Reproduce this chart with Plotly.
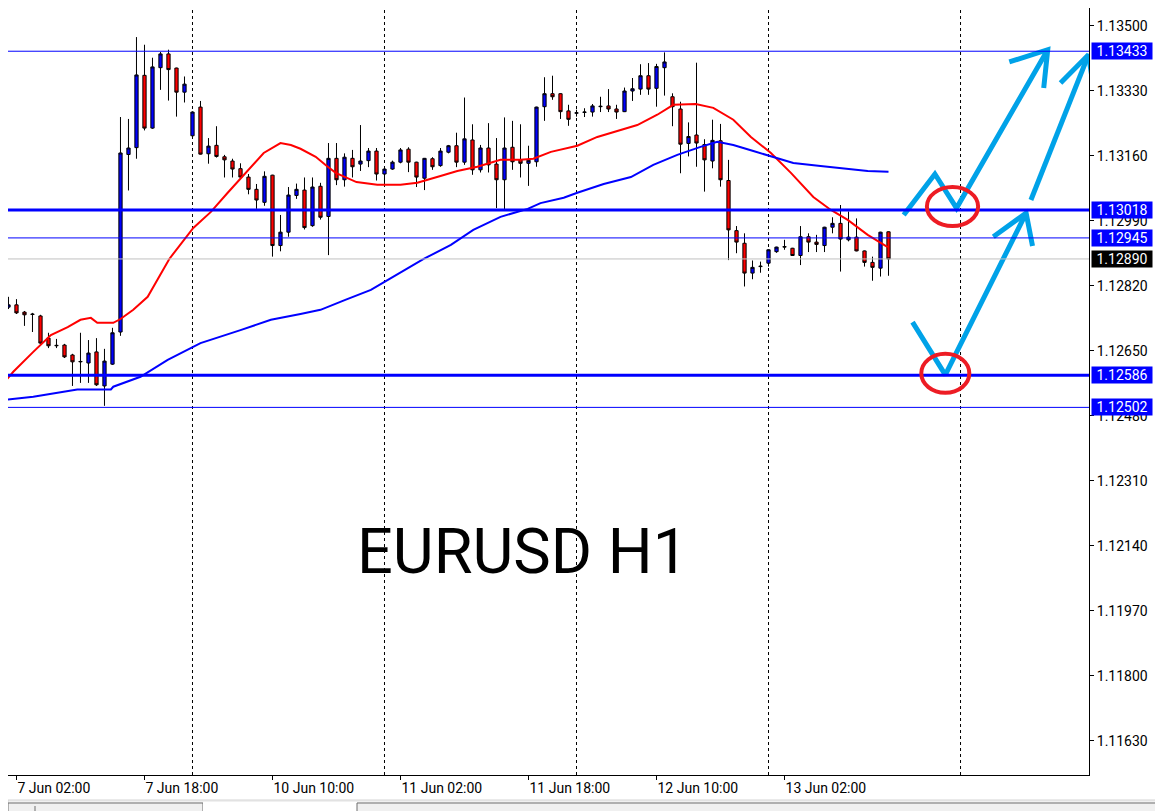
import plotly.graph_objects as go

# ---- EURUSD H1 bars, oldest first (bar 0 = 7 Jun 00:00) ----
opens = [
    1.12767, 1.12764, 1.12770, 1.12751, 1.12746, 1.12741, 1.12683, 1.12663, 1.12665, 1.12639,
    1.12621, 1.12618, 1.12647, 1.12558, 1.12615, 1.12699, 1.13163, 1.13181, 1.13370, 1.13232,
    1.13390, 1.13426, 1.13389, 1.13326, 1.13212, 1.13287, 1.13165, 1.13187, 1.13157, 1.13146,
    1.13126, 1.13104, 1.13072, 1.13038, 1.13109, 1.12925, 1.12960, 1.13056, 1.13070, 1.12977,
    1.13080, 1.13001, 1.13153, 1.13097, 1.13153, 1.13138, 1.13147, 1.13172, 1.13112, 1.13125,
    1.13143, 1.13177, 1.13143, 1.13101, 1.13152, 1.13134, 1.13169, 1.13186, 1.13143, 1.13201,
    1.13123, 1.13180, 1.13138, 1.13097, 1.13182, 1.13149, 1.13140, 1.13144, 1.13288, 1.13322,
    1.13322, 1.13277, 1.13271, 1.13273, 1.13274, 1.13288, 1.13290, 1.13282, 1.13275, 1.13329,
    1.13334, 1.13369, 1.13336, 1.13390, 1.13314, 1.13282, 1.13192, 1.13214, 1.13189, 1.13146,
    1.13199, 1.13095, 1.12964, 1.12931, 1.12853, 1.12870, 1.12879, 1.12909, 1.12921, 1.12918,
    1.12899, 1.12948, 1.12934, 1.12925, 1.12973, 1.12983, 1.12940, 1.12947, 1.12911, 1.12881,
    1.12866, 1.12961,
]
highs = [
    1.12772, 1.12791, 1.12785, 1.12754, 1.12749, 1.12744, 1.12697, 1.12681, 1.12668, 1.12642,
    1.12697, 1.12678, 1.12683, 1.12655, 1.12710, 1.13261, 1.13256, 1.13470, 1.13450, 1.13416,
    1.13431, 1.13437, 1.13390, 1.13367, 1.13276, 1.13303, 1.13206, 1.13237, 1.13162, 1.13152,
    1.13140, 1.13112, 1.13086, 1.13119, 1.13110, 1.13005, 1.13078, 1.13087, 1.13103, 1.13103,
    1.13089, 1.13193, 1.13193, 1.13166, 1.13175, 1.13240, 1.13180, 1.13180, 1.13126, 1.13147,
    1.13180, 1.13182, 1.13144, 1.13154, 1.13156, 1.13180, 1.13188, 1.13220, 1.13312, 1.13242,
    1.13188, 1.13245, 1.13206, 1.13260, 1.13251, 1.13242, 1.13186, 1.13288, 1.13365, 1.13369,
    1.13323, 1.13293, 1.13280, 1.13284, 1.13295, 1.13314, 1.13334, 1.13293, 1.13338, 1.13363,
    1.13399, 1.13402, 1.13400, 1.13430, 1.13323, 1.13301, 1.13247, 1.13403, 1.13203, 1.13254,
    1.13243, 1.13149, 1.12976, 1.12957, 1.12886, 1.12883, 1.12915, 1.12922, 1.12940, 1.12919,
    1.12976, 1.12957, 1.12953, 1.12974, 1.12999, 1.13031, 1.13014, 1.12996, 1.12912, 1.12896,
    1.12961, 1.12962,
]
lows = [
    1.12762, 1.12759, 1.12746, 1.12715, 1.12699, 1.12668, 1.12657, 1.12657, 1.12631, 1.12558,
    1.12566, 1.12566, 1.12558, 1.12506, 1.12613, 1.12689, 1.13069, 1.13152, 1.13226, 1.13230,
    1.13332, 1.13304, 1.13262, 1.13299, 1.13211, 1.13163, 1.13139, 1.13155, 1.13103, 1.13103,
    1.13102, 1.13059, 1.13021, 1.13029, 1.12896, 1.12910, 1.12948, 1.13047, 1.12967, 1.12974,
    1.12993, 1.12900, 1.13083, 1.13079, 1.13103, 1.13120, 1.13130, 1.13095, 1.13086, 1.13123,
    1.13140, 1.13117, 1.13078, 1.13070, 1.13123, 1.13131, 1.13166, 1.13130, 1.13136, 1.13110,
    1.13116, 1.13116, 1.13023, 1.13020, 1.13123, 1.13103, 1.13081, 1.13131, 1.13251, 1.13306,
    1.13256, 1.13238, 1.13262, 1.13261, 1.13262, 1.13274, 1.13274, 1.13256, 1.13274, 1.13303,
    1.13319, 1.13319, 1.13288, 1.13317, 1.13237, 1.13114, 1.13158, 1.13131, 1.13066, 1.13127,
    1.13079, 1.12887, 1.12905, 1.12818, 1.12837, 1.12854, 1.12870, 1.12906, 1.12914, 1.12898,
    1.12874, 1.12908, 1.12908, 1.12908, 1.12957, 1.12857, 1.12936, 1.12910, 1.12870, 1.12833,
    1.12844, 1.12846,
]
closes = [
    1.12766, 1.12770, 1.12749, 1.12744, 1.12745, 1.12670, 1.12663, 1.12664, 1.12634, 1.12621,
    1.12622, 1.12644, 1.12561, 1.12623, 1.12697, 1.13167, 1.13180, 1.13371, 1.13232, 1.13392,
    1.13426, 1.13385, 1.13326, 1.13347, 1.13274, 1.13164, 1.13185, 1.13158, 1.13149, 1.13125,
    1.13104, 1.13072, 1.13044, 1.13106, 1.12925, 1.12960, 1.13057, 1.13072, 1.12972, 1.13078,
    1.12999, 1.13153, 1.13097, 1.13156, 1.13131, 1.13146, 1.13172, 1.13112, 1.13125, 1.13143,
    1.13175, 1.13143, 1.13104, 1.13153, 1.13131, 1.13172, 1.13186, 1.13143, 1.13204, 1.13123,
    1.13180, 1.13136, 1.13097, 1.13180, 1.13144, 1.13140, 1.13148, 1.13287, 1.13322, 1.13314,
    1.13275, 1.13255, 1.13272, 1.13274, 1.13290, 1.13289, 1.13282, 1.13274, 1.13329, 1.13335,
    1.13369, 1.13334, 1.13393, 1.13405, 1.13288, 1.13190, 1.13210, 1.13193, 1.13149, 1.13200,
    1.13097, 1.12966, 1.12934, 1.12853, 1.12868, 1.12871, 1.12914, 1.12921, 1.12922, 1.12899,
    1.12948, 1.12934, 1.12928, 1.12973, 1.12983, 1.12942, 1.12947, 1.12911, 1.12881, 1.12868,
    1.12960, 1.12890,
]

# time axis labels (bar index -> text) and day separators (00:00 bars)
label_bars = [2, 18, 34, 50, 66, 82, 98]
label_texts = ["7 Jun 02:00", "7 Jun 18:00", "10 Jun 10:00", "11 Jun 02:00",
               "11 Jun 18:00", "12 Jun 10:00", "13 Jun 02:00"]
day_start_bars = [24, 48, 72, 96, 120]

price_ticks = [1.13500, 1.13330, 1.13160, 1.12990, 1.12820, 1.12650,
               1.12480, 1.12310, 1.12140, 1.11970, 1.11800, 1.11630]

# moving averages at sample bars
fast_ma_bars = [0, 1.6, 4.1, 6.3, 8.4, 10, 11.3, 12.1, 14.1, 15, 16.6, 18.4, 19.6, 21.1,
                24.1, 26.3, 28.4, 30.4, 32.9, 35, 36.3, 37.5, 39.4, 40.6, 41.9, 44.5,
                47.1, 50, 52.1, 55, 57.1, 59.6, 62.5, 65, 66.6, 68.8, 72.1, 74.6, 77.5,
                79.6, 82.1, 84.1, 86.9, 89.1, 91.6, 93.8, 96.3, 98.8, 101.6, 103.8,
                105.9, 108.4, 110.9]
fast_ma = [1.12556, 1.12595, 1.12647, 1.12691, 1.12712, 1.12731, 1.12736, 1.12723, 1.12723,
           1.12733, 1.12757, 1.12791, 1.12835, 1.12890, 1.12971, 1.13013, 1.13063, 1.13110,
           1.13167, 1.13193, 1.13188, 1.13178, 1.13157, 1.13136, 1.13115, 1.13091, 1.13084,
           1.13084, 1.13089, 1.13107, 1.13120, 1.13131, 1.13149, 1.13149, 1.13152, 1.13170,
           1.13186, 1.13209, 1.13227, 1.13240, 1.13267, 1.13293, 1.13295, 1.13285, 1.13254,
           1.13209, 1.13167, 1.13115, 1.13052, 1.13018, 1.12992, 1.12953, 1.12921]
slow_ma_bars = [0, 4.1, 9.6, 13.8, 14.1, 17.5, 20.9, 23.4, 25, 30, 33.8, 37.5, 40, 43.1,
                46.3, 48.8, 52.9, 56.3, 59.1, 62.5, 65.9, 67.5, 70.4, 72.1, 75.4, 78.8,
                81.6, 84.6, 87.5, 89.6, 91.6, 94.1, 96.6, 99.1, 102.5, 105.9, 108.4, 111]
slow_ma = [1.12520, 1.12530, 1.12549, 1.12549, 1.12556, 1.12582, 1.12626, 1.12652, 1.12670,
           1.12704, 1.12731, 1.12746, 1.12757, 1.12783, 1.12809, 1.12840, 1.12890, 1.12927,
           1.12966, 1.13000, 1.13021, 1.13036, 1.13050, 1.13063, 1.13086, 1.13104, 1.13136,
           1.13162, 1.13183, 1.13196, 1.13188, 1.13172, 1.13157, 1.13141, 1.13133, 1.13125,
           1.13120, 1.13118]

# horizontal levels
key_levels = [1.13018, 1.12586]
thin_levels = [1.13433, 1.12945, 1.12502]
bid_price = 1.12890

# hand drawn scenario: strokes as (bar, price) points, circles as (bar0, bar1, price0, price1)
arrow_strokes = [
    [(112.9, 1.13005), (116.8, 1.13112), (119.5, 1.13023), (130.9, 1.13437)],
    [(126.1, 1.13405), (130.9, 1.13437), (130.4, 1.13337)],
    [(128.8, 1.13044), (136.0, 1.13424)],
    [(132.5, 1.13350), (136.0, 1.13424), (136.6, 1.13340)],
    [(114.0, 1.12725), (118.1, 1.12587), (128.2, 1.13010)],
    [(124.1, 1.12948), (128.2, 1.13010), (129.0, 1.12924)],
]
circles = [(115.8, 122.2, 1.12976, 1.13078), (115.1, 121.1, 1.12540, 1.12642)]

# the page body adds an 8px offset, so the plot is laid out 8px up/left of the screenshot grid
OFFSET = 8
PLOT_W = 1089 - OFFSET
PLOT_H = 775 - OFFSET
X_RANGE = [0.94, 136.06]
Y_RANGE = [1.11541, 1.13546]
FONT = "Roboto"


def px_x(px):
    """screenshot column -> paper x"""
    return (px - OFFSET) / PLOT_W


def px_y(py):
    """screenshot row -> paper y"""
    return (775.0 - py) / PLOT_H


def build_figure():
    fig = go.Figure()
    bars = list(range(len(opens)))

    fig.add_trace(go.Candlestick(
        x=bars, open=opens, high=highs, low=lows, close=closes,
        increasing=dict(fillcolor="#0000ff", line=dict(color="black", width=1)),
        decreasing=dict(fillcolor="#ff0000", line=dict(color="black", width=1)),
        whiskerwidth=0, hoverinfo="skip",
    ))

    fig.add_trace(go.Scatter(x=fast_ma_bars, y=fast_ma, mode="lines",
                             line=dict(color="#ff0000", width=2), hoverinfo="skip"))
    fig.add_trace(go.Scatter(x=slow_ma_bars, y=slow_ma, mode="lines",
                             line=dict(color="#0000ff", width=2), hoverinfo="skip"))

    # drawn arrows
    for stroke in arrow_strokes:
        fig.add_trace(go.Scatter(
            x=[p[0] for p in stroke], y=[p[1] for p in stroke], mode="lines",
            line=dict(color="#00a2e8", width=5), hoverinfo="skip"))

    shapes = []
    # day separators
    for b in day_start_bars:
        shapes.append(dict(type="line", xref="x", yref="paper", x0=b, x1=b, y0=0, y1=1,
                           line=dict(color="black", width=1, dash="3px,3px"), layer="below"))
    # levels
    shapes.append(dict(type="line", xref="paper", yref="y", x0=0, x1=1, y0=bid_price, y1=bid_price,
                       line=dict(color="#c0c0c0", width=1)))
    for lv in thin_levels:
        shapes.append(dict(type="line", xref="paper", yref="y", x0=0, x1=1, y0=lv, y1=lv,
                           line=dict(color="#0000ff", width=1)))
    for lv in key_levels:
        shapes.append(dict(type="line", xref="paper", yref="y", x0=0, x1=1, y0=lv, y1=lv,
                           line=dict(color="#0000ff", width=3)))
    for b0, b1, p0, p1 in circles:
        shapes.append(dict(type="circle", xref="x", yref="y", x0=b0, x1=b1, y0=p0, y1=p1,
                           line=dict(color="#ed1c24", width=4)))

    # window chrome: right frame, bottom tab strip
    shapes.append(dict(type="line", xref="paper", yref="paper", x0=px_x(1160), x1=px_x(1160),
                       y0=px_y(800), y1=px_y(OFFSET), line=dict(color="#d4d4d4", width=1)))
    shapes.append(dict(type="rect", xref="paper", yref="paper", x0=px_x(OFFSET), x1=px_x(1163),
                       y0=px_y(811), y1=px_y(800), fillcolor="#f0f0f0",
                       line=dict(color="#d4d4d4", width=1)))
    shapes.append(dict(type="rect", xref="paper", yref="paper", x0=px_x(OFFSET), x1=px_x(203),
                       y0=px_y(812), y1=px_y(803), fillcolor="#f0f0f0",
                       line=dict(color="#6e6e6e", width=1)))
    shapes.append(dict(type="line", xref="paper", yref="paper", x0=px_x(35), x1=px_x(35),
                       y0=px_y(812), y1=px_y(806), line=dict(color="#6e6e6e", width=1)))
    shapes.append(dict(type="rect", xref="paper", yref="paper", x0=px_x(203), x1=px_x(357),
                       y0=px_y(812), y1=px_y(802), fillcolor="white", line=dict(width=0)))
    shapes.append(dict(type="rect", xref="paper", yref="paper", x0=px_x(357), x1=px_x(1165),
                       y0=px_y(812), y1=px_y(803), fillcolor="#f0f0f0",
                       line=dict(color="#6e6e6e", width=1)))

    # price tags on the axis
    annotations = []
    tags = [(lv, "#0000ff") for lv in thin_levels + key_levels] + [(bid_price, "black")]
    for lv, bg in tags:
        annotations.append(dict(
            xref="paper", yref="y", x=1, y=lv, xanchor="left", yanchor="middle", xshift=2,
            text=f"{lv:.5f}", showarrow=False, bgcolor=bg, width=58, height=14, borderpad=1,
            font=dict(family=FONT, size=14, color="white"), align="center"))

    annotations.append(dict(
        xref="paper", yref="paper", x=px_x(522), y=px_y(551), text="EURUSD H1",
        showarrow=False, xanchor="center", yanchor="middle",
        font=dict(family=FONT, size=63, color="black")))

    fig.update_layout(
        width=1163, height=811,
        margin=dict(l=0, r=1163 - PLOT_W, t=0, b=811 - PLOT_H, pad=0, autoexpand=False),
        paper_bgcolor="white", plot_bgcolor="white",
        showlegend=False, hovermode=False, boxgap=0.42,
        shapes=shapes, annotations=annotations,
        font=dict(family=FONT, size=14, color="black"),
    )
    fig.update_xaxes(
        range=X_RANGE, tickvals=label_bars, ticktext=label_texts, automargin=False,
        ticks="outside", ticklen=4, tickcolor="black", ticklabelposition="outside right",
        showline=True, linecolor="black", linewidth=1, showgrid=False, zeroline=False,
        rangeslider=dict(visible=False), tickfont=dict(family=FONT, size=14, color="black"),
    )
    fig.update_yaxes(
        range=Y_RANGE, side="right", tickvals=price_ticks, automargin=False,
        ticktext=[f"{p:.5f}" for p in price_ticks],
        ticks="outside", ticklen=4, tickcolor="black",
        showline=True, linecolor="black", linewidth=1, showgrid=False, zeroline=False,
        tickfont=dict(family=FONT, size=14, color="black"),
    )
    return fig


fig = build_figure()
fig.write_html("out.html")
